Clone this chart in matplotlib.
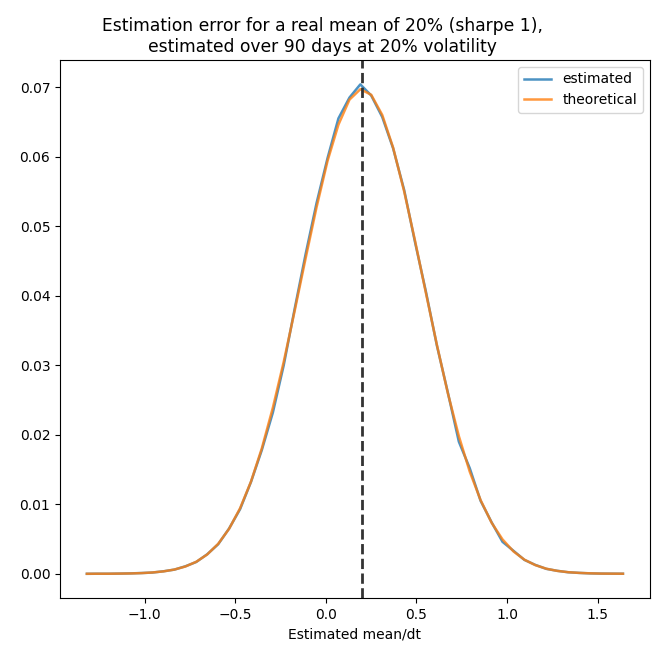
import matplotlib
matplotlib.use("Agg")
import matplotlib.pyplot as plt

# values
x_vals = [-1.320, -1.260, -1.199, -1.139, -1.078, -1.018, -0.958, -0.897, -0.837, -0.776,
          -0.716, -0.656, -0.595, -0.535, -0.474, -0.414, -0.354, -0.293, -0.233, -0.172,
          -0.112, -0.052, 0.009, 0.069, 0.130, 0.190, 0.250, 0.311, 0.371, 0.432,
          0.492, 0.552, 0.613, 0.673, 0.734, 0.794, 0.854, 0.915, 0.975, 1.036,
          1.096, 1.156, 1.217, 1.277, 1.338, 1.398, 1.458, 1.519, 1.579, 1.640]

theoretical = [0.00000, 0.00001, 0.00001, 0.00003, 0.00005, 0.00010, 0.00019, 0.00035, 0.00061, 0.00105,
               0.00173, 0.00277, 0.00431, 0.00646, 0.00943, 0.01325, 0.01804, 0.02390, 0.03050, 0.03790,
               0.04540, 0.05270, 0.05940, 0.06460, 0.06820, 0.06970, 0.06890, 0.06600, 0.06130, 0.05500,
               0.04790, 0.04040, 0.03290, 0.02600, 0.01980, 0.01470, 0.01060, 0.00734, 0.00495, 0.00321,
               0.00203, 0.00125, 0.00073, 0.00042, 0.00023, 0.00013, 0.00007, 0.00003, 0.00002, 0.00001]

estimated = [0.00000, 0.00001, 0.00001, 0.00003, 0.00006, 0.00011, 0.00018, 0.00036, 0.00060, 0.00108,
             0.00170, 0.00280, 0.00425, 0.00650, 0.00930, 0.01320, 0.01780, 0.02320, 0.03000, 0.03820,
             0.04600, 0.05330, 0.05980, 0.06550, 0.06850, 0.07040, 0.06880, 0.06570, 0.06120, 0.05520,
             0.04770, 0.04060, 0.03280, 0.02610, 0.01900, 0.01520, 0.01050, 0.00740, 0.00460, 0.00330,
             0.00200, 0.00128, 0.00071, 0.00043, 0.00022, 0.00013, 0.00006, 0.00003, 0.00002, 0.00001]

true_mean = 0.2

fig = plt.figure(figsize=(6.53, 6.51), dpi=100)
ax = fig.add_axes([0.092, 0.081, 0.903, 0.827])

ax.plot(x_vals, estimated, label="estimated", color="#1f77b4", alpha=0.8, lw=1.8)
ax.plot(x_vals, theoretical, label="theoretical", color="#ff7f0e", alpha=0.8, lw=1.8)
ax.axvline(true_mean, color="#333333", linestyle="--", lw=2)

ax.set_xlabel("Estimated mean/dt")
ax.set_title("Estimation error for a real mean of 20% (sharpe 1),\n"
             "estimated over 90 days at 20% volatility", fontsize=12.3, x=0.445)
ax.legend(loc="upper right")

fig.savefig("out.png", dpi=100)
